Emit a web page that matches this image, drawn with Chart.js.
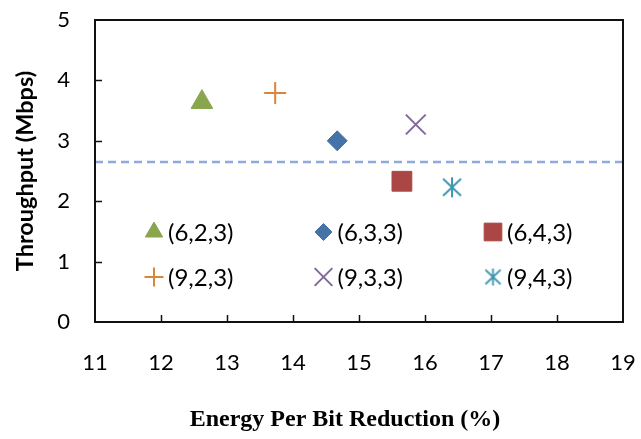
<!DOCTYPE html>
<html>
<head>
<meta charset="utf-8">
<script src="https://cdn.jsdelivr.net/npm/chart.js@4/dist/chart.umd.min.js"></script>
<style>
  html, body { margin: 0; padding: 0; background: #ffffff; }
  #wrap { width: 641px; height: 439px; }
</style>
</head>
<body>
<div id="wrap"><canvas id="c" width="641" height="439"></canvas></div>
<script>
// ---- data ----
const configLabels = ['(6,2,3)', '(6,3,3)', '(6,4,3)', '(9,2,3)', '(9,3,3)', '(9,4,3)'];
const energyReduction = [12.62, 14.67, 15.65, 13.73, 15.86, 16.41];   // %
const throughputMbps = [3.64, 3.00, 2.33, 3.79, 3.27, 2.23];          // Mbps
const baselineThroughput = 2.65;                                        // dashed reference line
const xRange = [11, 19];
const yRange = [0, 5];
const xTitle = 'Energy Per Bit Reduction (%)';
const yTitle = 'Throughput (Mbps)';

// ---- styles ----
const colors = ['#89A54E', '#4572A7', '#AA4643', '#DB843D', '#80699B', '#3D96AE'];
const styles = ['triangle', 'rectRot', 'rect', 'cross', 'crossRot', 'asterisk'];
const radii = [12.5, 10, 14, 11, 14, 10];
const legendRadii = [10, 8.5, 12.5, 9.5, 12.5, 9];

function makeAsterisk(size, color, lw) {
  const c = document.createElement('canvas');
  c.width = size; c.height = size;
  const g = c.getContext('2d');
  const m = size / 2, r = size / 2 - 1;
  g.strokeStyle = color; g.lineWidth = lw; g.lineCap = 'butt';
  g.beginPath();
  g.moveTo(m, m - r); g.lineTo(m, m + r);
  const dx = r * 0.9, dy = r * 0.85;
  g.moveTo(m - dx, m - dy); g.lineTo(m + dx, m + dy);
  g.moveTo(m + dx, m - dy); g.lineTo(m - dx, m + dy);
  g.stroke();
  return c;
}
const asteriskBig = makeAsterisk(22, colors[5], 2);
const asteriskSmall = makeAsterisk(19, colors[5], 1.8);

const isLine = s => s === 'cross' || s === 'crossRot';

const datasets = configLabels.map((lab, i) => ({
  label: lab,
  data: [{ x: energyReduction[i], y: throughputMbps[i] }],
  pointStyle: styles[i] === 'asterisk' ? asteriskBig : styles[i],
  pointRadius: radii[i],
  pointHoverRadius: radii[i],
  backgroundColor: colors[i],
  borderColor: colors[i],
  borderWidth: isLine(styles[i]) ? 2 : 1,
  showLine: false
}));
datasets.push({
  label: 'baseline',
  data: [{ x: xRange[0], y: baselineThroughput }, { x: xRange[1], y: baselineThroughput }],
  showLine: true,
  borderColor: '#8EA9DB',
  borderWidth: 2.5,
  borderDash: [8, 5],
  pointRadius: 0,
  fill: false
});

const framePlugin = {
  id: 'frame',
  afterDatasetsDraw(chart) {
    const { ctx, chartArea: a, scales } = chart;
    ctx.save();
    ctx.strokeStyle = '#111';
    // inward tick marks
    ctx.lineWidth = 1.5;
    ctx.beginPath();
    for (let v = xRange[0] + 1; v < xRange[1]; v++) {
      const px = Math.round(scales.x.getPixelForValue(v)) + 0.5;
      ctx.moveTo(px, a.bottom); ctx.lineTo(px, a.bottom - 7);
    }
    for (let v = yRange[0] + 1; v < yRange[1]; v++) {
      const py = Math.round(scales.y.getPixelForValue(v)) + 0.5;
      ctx.moveTo(a.left, py); ctx.lineTo(a.left + 7, py);
    }
    ctx.stroke();
    ctx.lineWidth = 2;
    ctx.strokeRect(a.left, a.top, a.right - a.left, a.bottom - a.top);

    // legend inside the plot area
    configLabels.forEach((lab, i) => {
      const col = i % 3, row = Math.floor(i / 3);
      const mx = a.left + 59 + col * 169.5;
      const my = a.top + 212 + row * 45;
      if (styles[i] === 'asterisk') {
        ctx.drawImage(asteriskSmall, mx - 9.5, my - 9.5);
      } else {
        ctx.save();
        ctx.fillStyle = colors[i];
        ctx.strokeStyle = colors[i];
        ctx.lineWidth = isLine(styles[i]) ? 2 : 1;
        Chart.helpers.drawPoint(ctx, {
          pointStyle: styles[i], radius: legendRadii[i], rotation: 0,
          borderWidth: isLine(styles[i]) ? 2 : 1
        }, mx, my);
        ctx.restore();
      }
      ctx.font = '24px Lato';
      ctx.textBaseline = 'middle';
      ctx.textAlign = 'left';
      ctx.fillStyle = '#000';
      ctx.fillText(lab, mx + 14, my + 1);
    });

    // x axis title
    ctx.font = 'bold 24px "Liberation Serif"';
    ctx.textAlign = 'center';
    ctx.textBaseline = 'middle';
    ctx.fillStyle = '#000';
    ctx.fillText(xTitle, a.left + 250, 420);
    ctx.restore();
  }
};

new Chart(document.getElementById('c'), {
  type: 'scatter',
  data: { datasets },
  plugins: [framePlugin],
  options: {
    responsive: false,
    animation: false,
    devicePixelRatio: 1,
    layout: { padding: { top: 20, right: 18, left: 0, bottom: 0 } },
    plugins: { legend: { display: false }, tooltip: { enabled: false } },
    scales: {
      x: {
        type: 'linear',
        min: xRange[0], max: xRange[1],
        ticks: { stepSize: 1, padding: 28, color: '#000', font: { family: 'Lato', size: 22 } },
        grid: { display: false, drawTicks: false },
        border: { display: false },
        afterFit(s) { s.height = 117; s.paddingLeft = 0; s.paddingRight = 0; }
      },
      y: {
        type: 'linear',
        min: yRange[0], max: yRange[1],
        ticks: { stepSize: 1, padding: 25, color: '#000', font: { family: 'Lato', size: 22 } },
        grid: { display: false, drawTicks: false },
        border: { display: false },
        title: { display: true, text: yTitle, color: '#000', padding: { top: 11, bottom: 0 },
                 font: { family: 'Lato', size: 23.5, weight: 'bold' } },
        afterFit(s) { s.width = 95; s.paddingTop = 0; s.paddingBottom = 0; }
      }
    }
  }
});
</script>
</body>
</html>
